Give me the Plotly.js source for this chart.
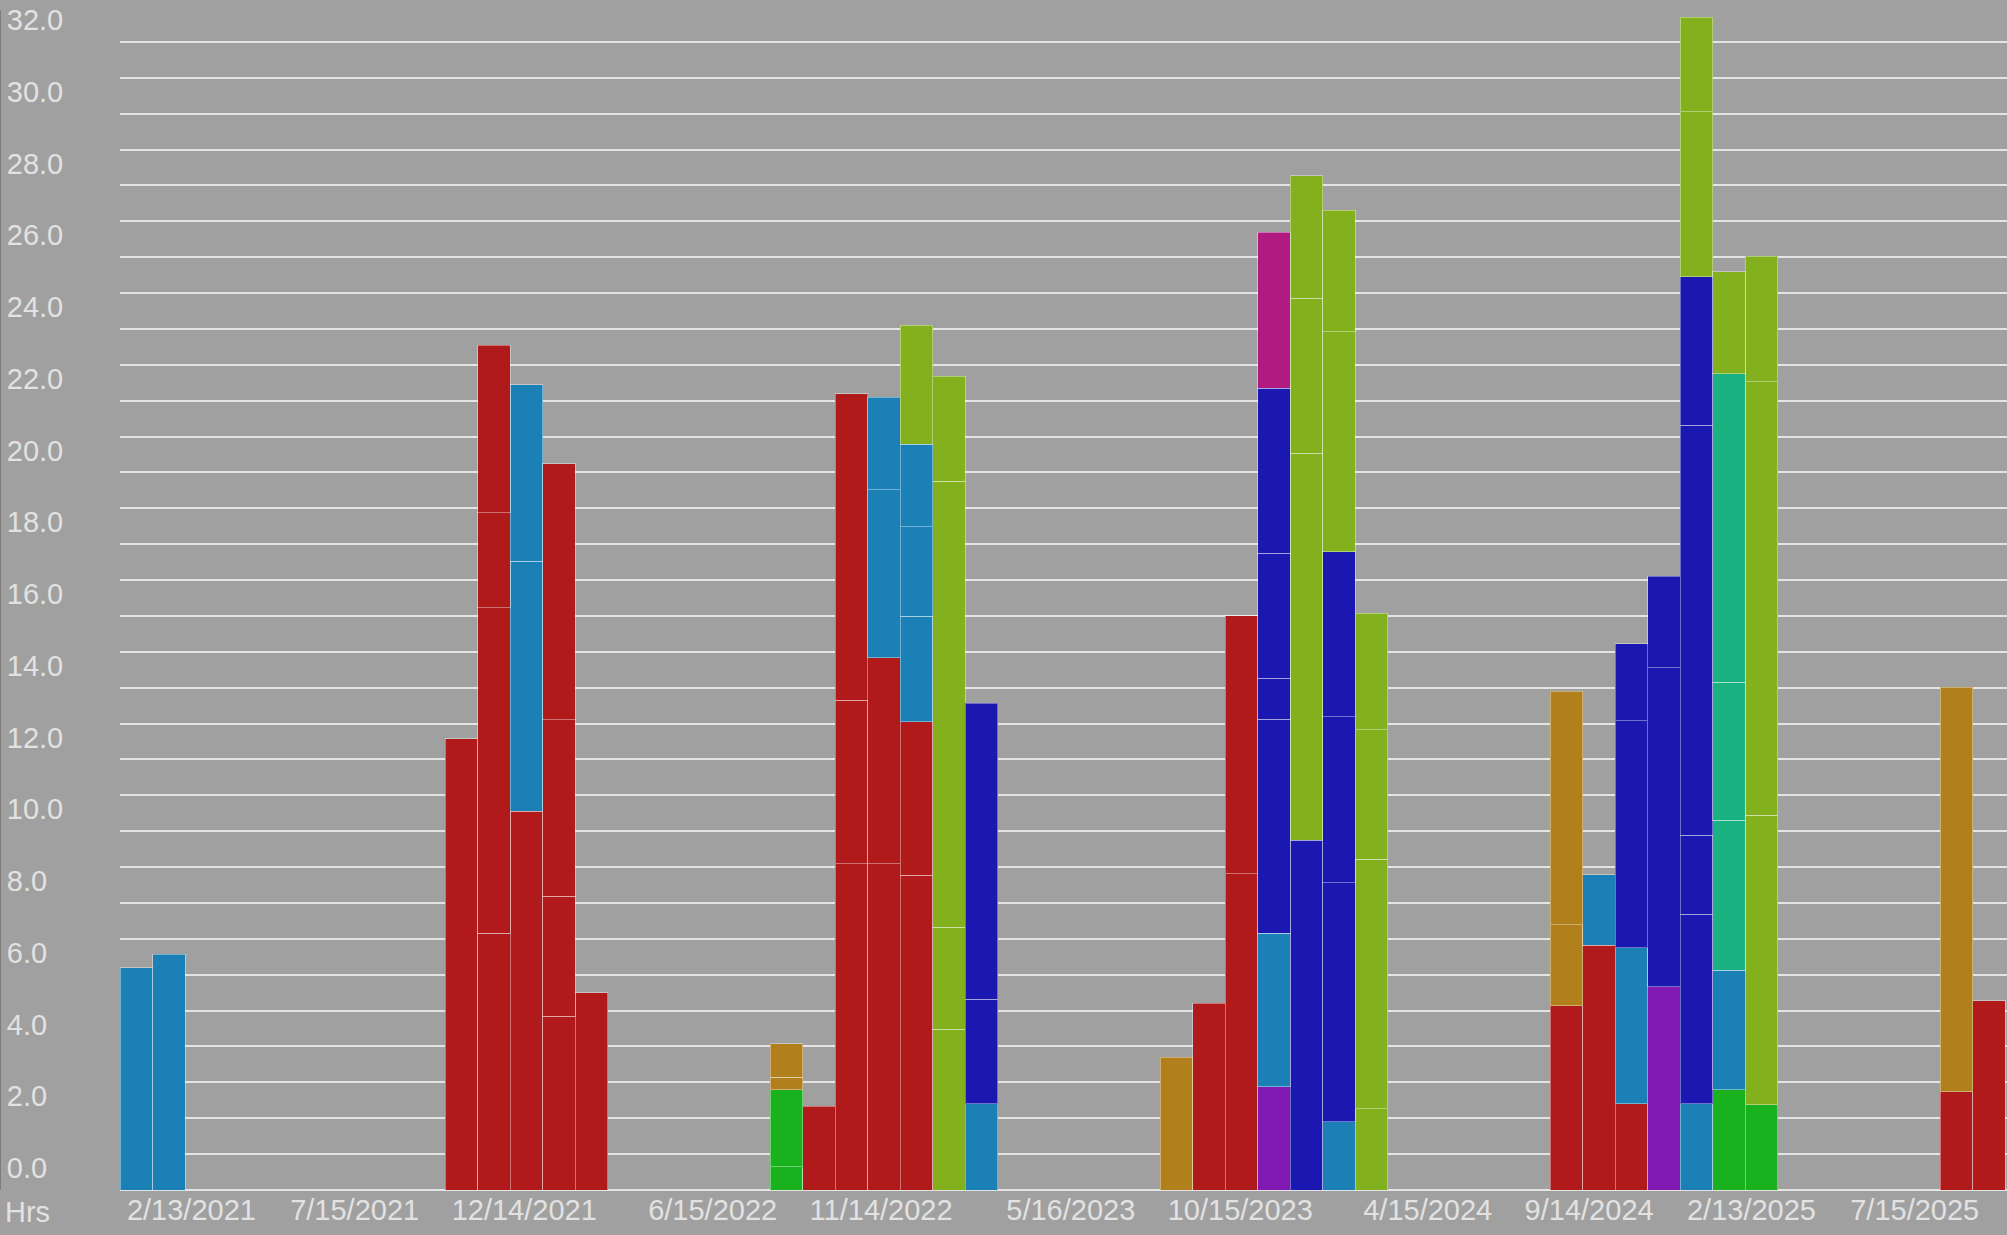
<!DOCTYPE html>
<html>
<head>
<meta charset="utf-8">
<script src="https://cdn.plot.ly/plotly-3.0.1.min.js"></script>
<style>
html, body { margin: 0; padding: 0; background: #a0a0a0; }
#chart { width: 2007px; height: 1235px; }
</style>
</head>
<body>
<div id="chart"></div>
<script>
// ---- DATA ----
// One bar per month (only months with data)
const barMonths = ['2021-02','2021-03','2021-12','2022-01','2022-02','2022-03','2022-04',
  '2022-10','2022-11','2022-12','2023-01','2023-02','2023-03','2023-04',
  '2023-10','2023-11','2023-12','2024-01','2024-02','2024-03','2024-04',
  '2024-10','2024-11','2024-12','2025-01','2025-02','2025-03','2025-04',
  '2025-10','2025-11'];

// Stacked segments, bottom (layer 1) to top (layer 7). Hours per segment.
const layer1 = [6.20, 6.57, 12.58, 7.15, 10.56, 4.85, 5.50, 0.65, 2.33, 9.09, 9.10, 8.77, 4.48, 2.41,
  3.70, 5.21, 8.82, 2.88, 9.75, 1.90, 2.27, 5.13, 6.82, 2.41, 5.66, 2.41, 2.79, 2.37, 2.74, 5.28];
const layer1Colors = ['S','S','R','R','R','R','R','G','R','R','R','R','O','S',
  'B','R','R','P','D','S','O','R','R','R','P','S','G','G','R','R'];

const layer2 = [null, null, null, 9.08, 6.96, 3.34, null, 2.15, null, 4.56, 5.73, 4.28, 2.84, 2.90,
  null, null, 7.19, 4.27, 10.78, 6.67, 6.95, 2.27, 1.97, 4.34, 8.89, 5.27, 3.34, 8.08, 11.27, null];
const layer2Colors = [null, null, null, 'R','S','R', null, 'G', null, 'R','R','R','O','D',
  null, null, 'R','S','O','D','O','B','S','S','D','D','S','O','B', null];

const layer3 = [null, null, null, 2.65, 4.92, 4.92, null, 0.34, null, 8.54, 4.69, 2.94, 12.44, 8.26,
  null, null, null, 5.97, 4.32, 4.62, 3.61, 6.50, null, 6.33, 2.56, 2.21, 4.17, 12.08, null, null];
const layer3Colors = [null, null, null, 'R','S','R', null, 'B', null, 'R','S','S','O','D',
  null, null, null, 'D','O','D','O','B', null, 'D','D','D','T','O', null, null];

const layer4 = [null, null, null, 4.66, null, 7.13, null, 0.93, null, null, 2.58, 2.49, 2.92, null,
  null, null, null, 1.14, 3.42, 4.60, 3.25, null, null, 2.14, null, 11.43, 3.85, 3.49, null, null];
const layer4Colors = [null, null, null, 'R', null, 'R', null, 'B', null, null, 'S','S','O', null,
  null, null, null, 'D','O','D','O', null, null, 'D', null, 'D','T','O', null, null];

const layer5 = [null, null, null, null, null, null, null, null, null, null, null, 2.30, null, null,
  null, null, null, 3.49, null, 6.13, null, null, null, null, null, 4.13, 8.60, null, null, null];
const layer5Colors = [null, null, null, null, null, null, null, null, null, null, null, 'S', null, null,
  null, null, null, 'D', null, 'O', null, null, null, null, null, 'D','T', null, null, null];

const layer6 = [null, null, null, null, null, null, null, null, null, null, null, 3.33, null, null,
  null, null, null, 4.60, null, 3.39, null, null, null, null, null, 4.60, 2.85, null, null, null];
const layer6Colors = [null, null, null, null, null, null, null, null, null, null, null, 'O', null, null,
  null, null, null, 'D', null, 'O', null, null, null, null, null, 'O','O', null, null, null];

const layer7 = [null, null, null, null, null, null, null, null, null, null, null, null, null, null,
  null, null, null, 4.35, null, null, null, null, null, null, null, 2.64, null, null, null, null];
const layer7Colors = [null, null, null, null, null, null, null, null, null, null, null, null, null, null,
  null, null, null, 'M', null, null, null, null, null, null, null, 'O', null, null, null, null];

// X tick labels
const tickDates = ['2/13/2021','7/15/2021','12/14/2021','6/15/2022','11/14/2022','5/16/2023',
  '10/15/2023','4/15/2024','9/14/2024','2/13/2025','7/15/2025'];

// ---- STYLE ----
const palette = {
  R: '#b11a1a', S: '#1b80b5', D: '#1a18b1', O: '#82b11d', G: '#1ab11e',
  T: '#1ab280', P: '#801ab2', M: '#b11a80', B: '#b17f1c'
};
const textColor = '#e2e2e2';
const gridColor = '#e4e4e4';

// month index relative to first month on the axis (Feb 2021)
function monthSlot(ym) {
  const [y, m] = ym.split('-').map(Number);
  return (y - 2021) * 12 + (m - 2);
}
// a date inside its month's slot (slot spans index-0.5 .. index+0.5)
function dateSlot(s) {
  const [m, d, y] = s.split('/').map(Number);
  const dim = new Date(y, m, 0).getDate();
  return (y - 2021) * 12 + (m - 2) - 0.5 + (d - 1) / dim;
}

const xs = barMonths.map(monthSlot);
const layers = [
  [layer1, layer1Colors], [layer2, layer2Colors], [layer3, layer3Colors], [layer4, layer4Colors],
  [layer5, layer5Colors], [layer6, layer6Colors], [layer7, layer7Colors]
];

const traces = layers.map(([vals, cols], i) => ({
  type: 'bar',
  name: 'Layer ' + (i + 1),
  x: xs,
  y: vals,
  marker: {
    color: cols.map(c => c ? palette[c] : 'rgba(0,0,0,0)'),
    line: { color: 'rgba(255,255,255,0.38)', width: 1 }
  },
  hoverinfo: 'skip',
  showlegend: false
}));

const layout = {
  width: 2007,
  height: 1235,
  paper_bgcolor: '#a0a0a0',
  plot_bgcolor: '#a0a0a0',
  margin: { l: 0, r: 0, t: 10, b: 45, pad: 0 },
  barmode: 'stack',
  bargap: 0,
  showlegend: false,
  font: { family: '"Liberation Sans", Arial, sans-serif', size: 29, color: textColor },
  xaxis: {
    domain: [120 / 2007, 1],
    range: [-0.5, 57.56],
    tickmode: 'array',
    tickvals: tickDates.map(dateSlot),
    ticktext: tickDates,
    ticklabelposition: 'outside right',
    ticklabelshift: -7,
    ticks: '',
    showgrid: false,
    zeroline: false,
    showline: false,
    fixedrange: true
  },
  yaxis: {
    anchor: 'free',
    position: 0,
    side: 'right',
    range: [0, 32.89],
    tickmode: 'linear',
    tick0: 0,
    dtick: 2,
    tickformat: '.1f',
    ticklabelshift: -22,
    ticks: '',
    showgrid: true,
    gridcolor: gridColor,
    gridwidth: 2,
    minor: { dtick: 1, showgrid: true, gridcolor: gridColor, gridwidth: 2 },
    zeroline: true,
    zerolinecolor: gridColor,
    zerolinewidth: 2,
    showline: true,
    linecolor: '#7c7c7c',
    linewidth: 2,
    fixedrange: true
  },
  annotations: [{
    text: 'Hrs', xref: 'paper', yref: 'paper', x: 0, y: 0,
    xanchor: 'left', yanchor: 'middle', xshift: 3, yshift: -22,
    showarrow: false, font: { size: 29, color: textColor }
  }]
};

Plotly.newPlot('chart', traces, layout, { displayModeBar: false, staticPlot: true });
</script>
</body>
</html>
